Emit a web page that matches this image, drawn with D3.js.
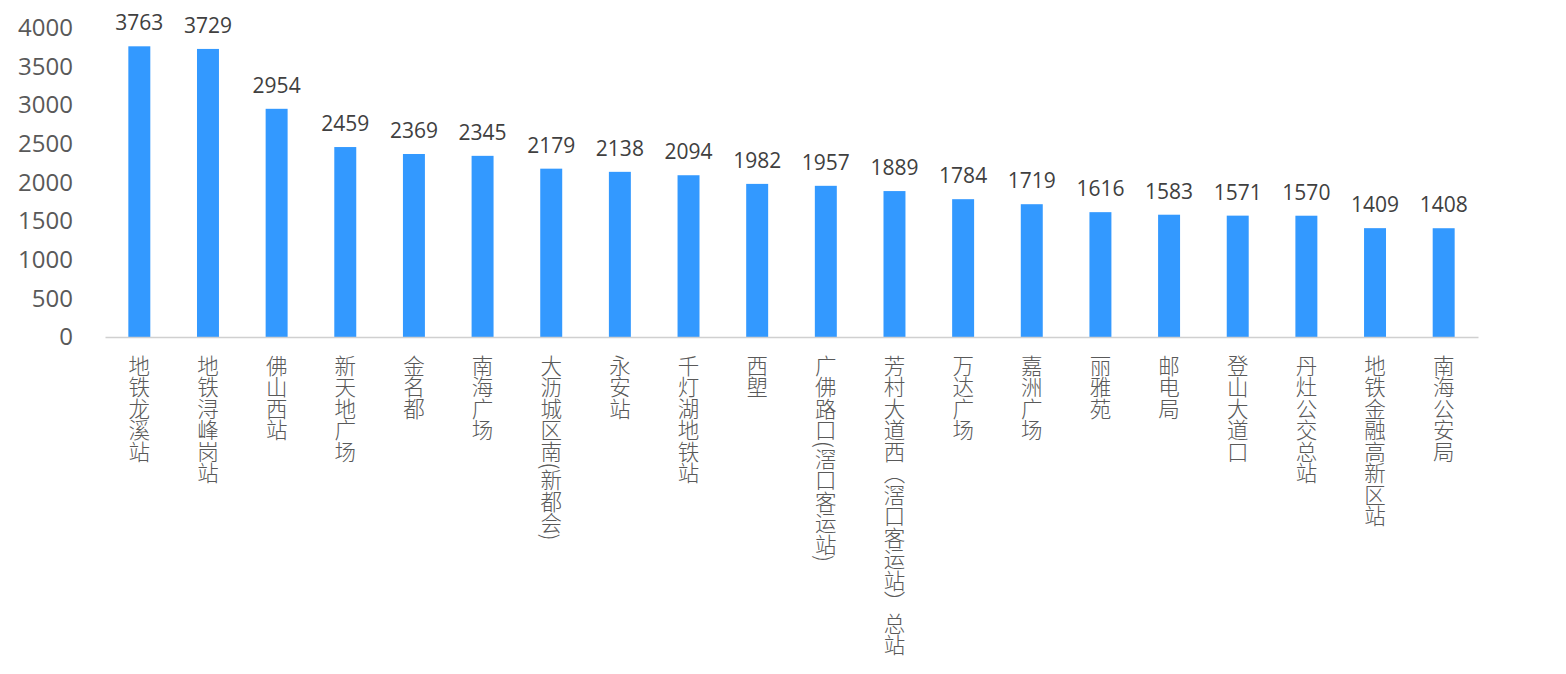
<!DOCTYPE html>
<html>
<head>
<meta charset="utf-8">
<script src="https://cdn.jsdelivr.net/npm/d3@7"></script>
<style>
  body { margin: 0; background: #fff; }
  svg { display: block; }
</style>
</head>
<body>
<div id="vis"></div>
<script>
// station names and values
let stations = ["地铁龙溪站", "地铁浔峰岗站", "佛山西站", "新天地广场", "金名都", "南海广场",
    "大沥城区南(新都会)", "永安站", "千灯湖地铁站", "西塱", "广佛路口(滘口客运站)",
    "芳村大道西（滘口客运站）总站", "万达广场", "嘉洲广场", "丽雅苑", "邮电局",
    "登山大道口", "丹灶公交总站", "地铁金融高新区站", "南海公安局"]
let counts = [3763, 3729, 2954, 2459, 2369, 2345, 2179, 2138, 2094, 1982, 1957,
    1889, 1784, 1719, 1616, 1583, 1571, 1570, 1409, 1408]
let yTicks = [0, 500, 1000, 1500, 2000, 2500, 3000, 3500, 4000]

let width = 1566, height = 674
let plotLeft = 105, plotRight = 1478, plotTop = 28, plotBottom = 337

let svg = d3.select("#vis")
    .append('svg')
    .attr('width', width)
    .attr('height', height)
    .style('font-family', '"Open Sans", "Noto Sans CJK SC", sans-serif')

let x = d3.scaleBand()
    .domain(stations)
    .range([plotLeft, plotRight])
    .paddingInner(0.68)
    .paddingOuter(0.34)

let y = d3.scaleLinear()
    .domain([0, 4000])
    .range([plotBottom, plotTop])

// y axis, no line, only labels
let yAxis = svg.append('g')
    .attr('transform', 'translate(' + plotLeft + ',0)')
    .call(d3.axisLeft(y).tickValues(yTicks).tickFormat(d3.format('d')).tickSize(0).tickPadding(32))
yAxis.select('.domain').remove()
yAxis.selectAll('text')
    .attr('fill', '#595959')
    .style('font-size', '24px')
    .style('font-family', '"Open Sans", sans-serif')

// bars
svg.selectAll('rect.bar')
    .data(counts)
    .enter()
    .append('rect')
    .attr('class', 'bar')
    .attr('x', (d, i) => x(stations[i]))
    .attr('y', d => y(d))
    .attr('width', x.bandwidth())
    .attr('height', d => y(0) - y(d))
    .attr('fill', '#3399ff')

// value labels
svg.selectAll('text.val')
    .data(counts)
    .enter()
    .append('text')
    .attr('class', 'val')
    .attr('x', (d, i) => x(stations[i]) + x.bandwidth() / 2)
    .attr('y', d => y(d) - 16)
    .attr('text-anchor', 'middle')
    .attr('fill', '#404040')
    .style('font-size', '21px')
    .text(d => d)

// x axis line
let xAxis = svg.append('g')
    .attr('transform', 'translate(0,' + plotBottom + ')')
    .call(d3.axisBottom(x).tickSize(0).tickSizeOuter(0).tickFormat(''))
xAxis.select('.domain').attr('stroke', '#d0d0d0').attr('stroke-width', 1.5)

// vertical category labels
svg.selectAll('text.cat')
    .data(stations)
    .enter()
    .append('text')
    .attr('class', 'cat')
    .attr('x', d => x(d) + x.bandwidth() / 2)
    .attr('y', plotBottom + 18)
    .style('writing-mode', 'vertical-rl')
    .style('font-size', '21.5px')
    .style('font-weight', 300)
    .style('font-family', '"Noto Sans CJK SC", sans-serif')
    .attr('fill', '#595959')
    .text(d => d)
</script>
</body>
</html>
